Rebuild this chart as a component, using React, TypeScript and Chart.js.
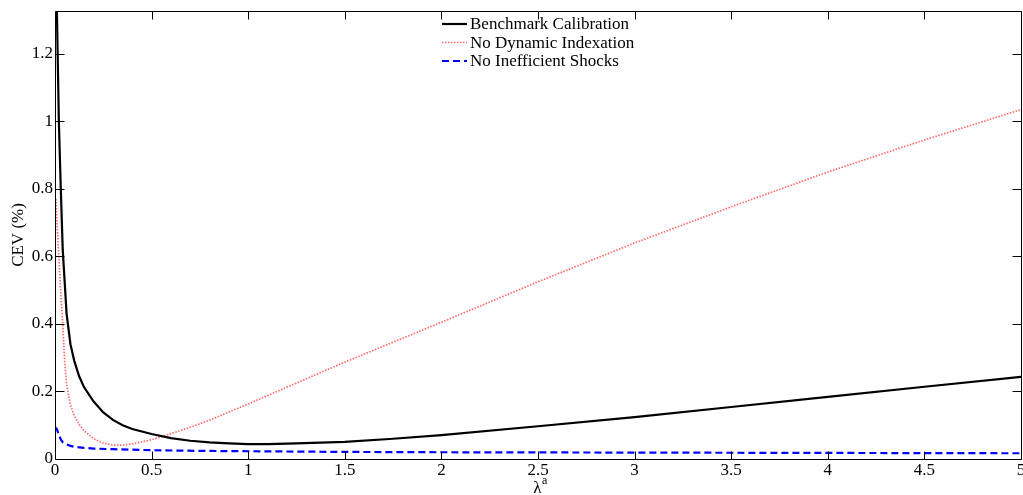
import React, { useEffect, useRef } from "react";
import { Chart, registerables } from "chart.js";

Chart.register(...registerables);

// ---------- data ----------
const seriesLabels = [
  "Benchmark Calibration",
  "No Dynamic Indexation",
  "No Inefficient Shocks",
];

const benchmarkX = [
  0.005, 0.01, 0.02, 0.03, 0.04, 0.06, 0.08, 0.1, 0.125, 0.15, 0.2, 0.25, 0.3,
  0.35, 0.4, 0.5, 0.6, 0.7, 0.8, 0.9, 1.0, 1.1, 1.25, 1.5, 1.75, 2, 2.5, 3,
  3.5, 4, 4.5, 5,
];
const benchmarkY = [
  1.6, 1.32, 1.0, 0.8, 0.62, 0.43, 0.34, 0.29, 0.245, 0.213, 0.17, 0.138,
  0.116, 0.1, 0.089, 0.074, 0.062, 0.054, 0.049, 0.046, 0.044, 0.044, 0.046,
  0.051, 0.06, 0.071, 0.097, 0.124, 0.154, 0.184, 0.214, 0.243,
];

const noIndexX = [
  0.005, 0.01, 0.02, 0.03, 0.04, 0.05, 0.06, 0.08, 0.1, 0.125, 0.15, 0.2, 0.25,
  0.3, 0.35, 0.4, 0.5, 0.6, 0.7, 0.8, 1.0, 1.25, 1.5, 2, 2.5, 3, 3.5, 4, 4.5,
  5,
];
const noIndexY = [
  0.77, 0.7, 0.6, 0.49, 0.4, 0.29, 0.22, 0.16, 0.128, 0.102, 0.084, 0.06,
  0.047, 0.041, 0.041, 0.045, 0.057, 0.075, 0.094, 0.115, 0.163, 0.225, 0.287,
  0.405, 0.525, 0.64, 0.747, 0.85, 0.945, 1.035,
];

const noShocksX = [
  0, 0.01, 0.02, 0.03, 0.04, 0.06, 0.08, 0.1, 0.15, 0.2, 0.3, 0.5, 0.75, 1,
  1.5, 2, 2.5, 3, 3.5, 4, 4.5, 5,
];
const noShocksY = [
  0.095, 0.088, 0.072, 0.058, 0.05, 0.043, 0.039, 0.036, 0.033, 0.031, 0.029,
  0.026, 0.024, 0.023, 0.021, 0.02, 0.0195, 0.019, 0.0185, 0.018, 0.0175,
  0.017,
];

const xTickValues = [0, 0.5, 1, 1.5, 2, 2.5, 3, 3.5, 4, 4.5, 5];
const yTickValues = [0, 0.2, 0.4, 0.6, 0.8, 1, 1.2];
const xAxisMin = 0;
const xAxisMax = 5;
const yAxisMin = 0;
const yAxisMax = 1.327;
const yAxisTitle = "CEV (%)";
const xAxisTitleMain = "λ";
const xAxisTitleSup = "a";

// ---------- styles ----------
const FONT = "'Liberation Serif', 'Times New Roman', serif";
const FONT_SIZE = 17;

function toPoints(xs: number[], ys: number[]) {
  return xs.map((x, i) => ({ x, y: ys[i] }));
}

function fmt(v: number) {
  return String(Math.round(v * 10) / 10);
}

const boxPlugin = {
  id: "matlabBox",
  afterDraw(chart: any) {
    const { ctx, chartArea: a, scales } = chart;
    const xs = scales.x;
    const ys = scales.y;
    ctx.save();
    ctx.setLineDash([]);
    ctx.strokeStyle = "#000";
    ctx.lineWidth = 1;
    const L = a.left + 0.5;
    const R = a.right + 0.5;
    const T = a.top + 0.5;
    const B = a.bottom + 0.5;
    ctx.beginPath();
    ctx.moveTo(L, T);
    ctx.lineTo(R, T);
    ctx.lineTo(R, B);
    ctx.lineTo(L, B);
    ctx.closePath();
    ctx.stroke();

    // inward ticks on all four sides
    ctx.beginPath();
    xTickValues.forEach((v) => {
      const p = Math.round(xs.getPixelForValue(v)) + 0.5;
      ctx.moveTo(p, B);
      ctx.lineTo(p, B - 8);
      ctx.moveTo(p, T);
      ctx.lineTo(p, T + 8);
    });
    yTickValues.forEach((v) => {
      const p = Math.round(ys.getPixelForValue(v)) + 0.5;
      ctx.moveTo(L, p);
      ctx.lineTo(L + 9, p);
      ctx.moveTo(R, p);
      ctx.lineTo(R - 9, p);
    });
    ctx.stroke();

    // legend inside the plot
    const rowsY = [24, 42.5, 61];
    const sampleX0 = 442;
    const sampleX1 = 467;
    ctx.font = `${FONT_SIZE}px ${FONT}`;
    ctx.textBaseline = "middle";
    ctx.textAlign = "left";
    chart.data.datasets.forEach((ds: any, i: number) => {
      const y = rowsY[i];
      ctx.save();
      ctx.strokeStyle = ds.borderColor;
      ctx.lineWidth = ds.borderWidth;
      ctx.setLineDash(ds.borderDash || []);
      ctx.beginPath();
      ctx.moveTo(sampleX0, y);
      ctx.lineTo(sampleX1, y);
      ctx.stroke();
      ctx.restore();
      ctx.fillStyle = "#000";
      ctx.fillText(ds.label, sampleX1 + 3, y + 1);
    });

    // x-axis title with superscript
    const cx = (a.left + a.right) / 2 + 2;
    ctx.font = `${FONT_SIZE}px ${FONT}`;
    ctx.textBaseline = "alphabetic";
    const wMain = ctx.measureText(xAxisTitleMain).width;
    ctx.font = `${Math.round(FONT_SIZE * 0.7)}px ${FONT}`;
    const wSup = ctx.measureText(xAxisTitleSup).width;
    const start = cx - (wMain + wSup) / 2;
    ctx.font = `${FONT_SIZE}px ${FONT}`;
    ctx.fillText(xAxisTitleMain, start, 493);
    ctx.font = `${Math.round(FONT_SIZE * 0.7)}px ${FONT}`;
    ctx.fillText(xAxisTitleSup, start + wMain + 0.5, 484);
    ctx.restore();
  },
};

export default function App() {
  const canvasRef = useRef<HTMLCanvasElement | null>(null);

  useEffect(() => {
    const canvas = canvasRef.current;
    if (!canvas) return;
    const tickFont = { family: FONT, size: FONT_SIZE };
    const chart = new Chart(canvas, {
      type: "line",
      data: {
        datasets: [
          {
            label: seriesLabels[0],
            data: toPoints(benchmarkX, benchmarkY),
            borderColor: "#000000",
            borderWidth: 2.2,
            borderDash: [],
            pointRadius: 0,
            fill: false,
            tension: 0,
          },
          {
            label: seriesLabels[1],
            data: toPoints(noIndexX, noIndexY),
            borderColor: "#ff6a6a",
            borderWidth: 1.7,
            borderDash: [1.5, 1.5],
            pointRadius: 0,
            fill: false,
            tension: 0,
          },
          {
            label: seriesLabels[2],
            data: toPoints(noShocksX, noShocksY),
            borderColor: "#0000ff",
            borderWidth: 2.2,
            borderDash: [7, 4],
            pointRadius: 0,
            fill: false,
            tension: 0,
          },
        ],
      },
      options: {
        animation: false,
        responsive: false,
        layout: { padding: { top: 11, right: 2, left: 0, bottom: 0 } },
        plugins: {
          legend: { display: false },
          tooltip: { enabled: false },
        },
        elements: { point: { radius: 0 } },
        scales: {
          x: {
            type: "linear",
            min: xAxisMin,
            max: xAxisMax,
            grid: { display: false, drawTicks: false },
            border: { display: false },
            ticks: {
              font: tickFont,
              color: "#000",
              padding: 1,
              maxRotation: 0,
              autoSkip: false,
              callback: (v: any) => fmt(Number(v)),
            },
            afterBuildTicks: (s: any) => {
              s.ticks = xTickValues.map((v) => ({ value: v }));
            },
            afterFit: (s: any) => {
              s.height = 36;
              s.paddingLeft = 0;
              s.paddingRight = 0;
            },
          },
          y: {
            type: "linear",
            min: yAxisMin,
            max: yAxisMax,
            grid: { display: false, drawTicks: false },
            border: { display: false },
            ticks: {
              font: tickFont,
              color: "#000",
              padding: 2,
              autoSkip: false,
              callback: (v: any) => fmt(Number(v)),
            },
            afterBuildTicks: (s: any) => {
              s.ticks = yTickValues.map((v) => ({ value: v }));
            },
            afterFit: (s: any) => {
              s.width = 55;
              s.paddingTop = 0;
              s.paddingBottom = 0;
            },
            title: {
              display: true,
              text: yAxisTitle,
              font: tickFont,
              color: "#000",
              padding: { top: 8, bottom: 0 },
            },
          },
        },
      },
      plugins: [boxPlugin],
    } as any);
    return () => chart.destroy();
  }, []);

  return (
    <div
      style={{
        position: "fixed",
        left: 0,
        top: 0,
        width: 1023,
        height: 495,
        background: "#fff",
      }}
    >
      <canvas ref={canvasRef} width={1023} height={495} />
    </div>
  );
}
